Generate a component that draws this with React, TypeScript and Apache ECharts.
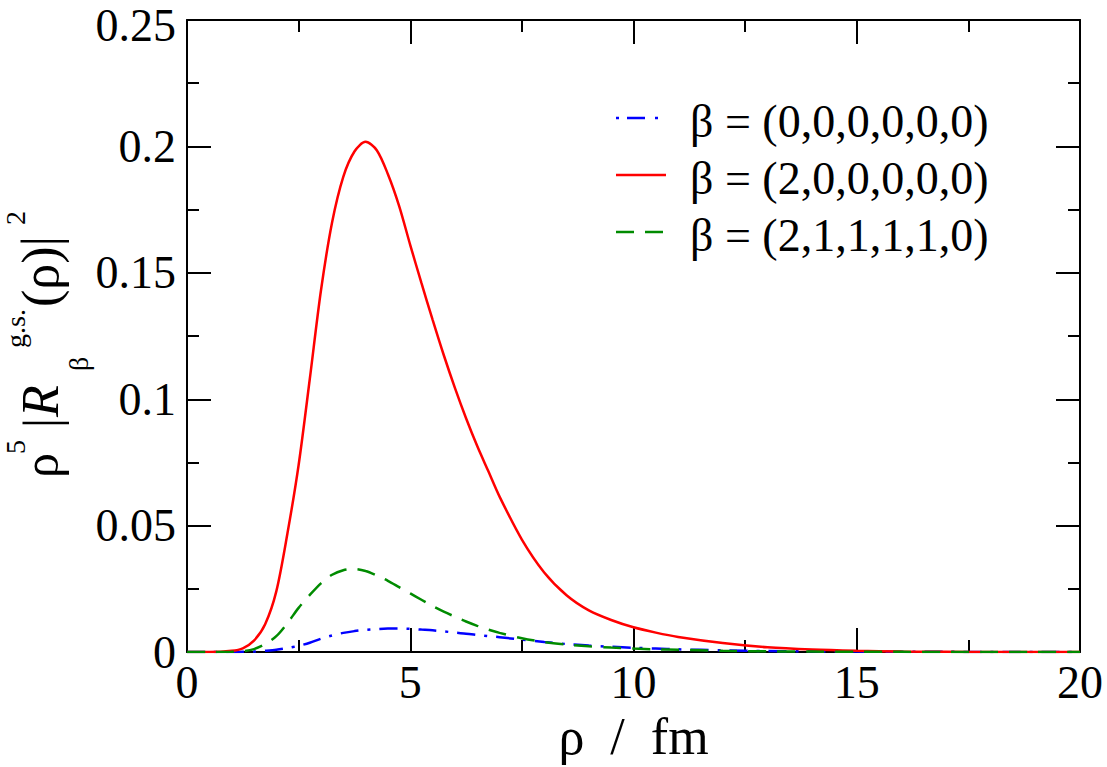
import React, { useEffect, useRef } from "react";
import * as echarts from "echarts";

// Hyperradius grid (fm) shared by the three densities
const rho = [
  0, 0.5, 1, 1.25, 1.5, 1.75, 2, 2.25, 2.5, 2.75, 3, 3.25, 3.5, 3.75, 4, 4.25,
  4.5, 4.75, 5, 5.25, 5.5, 5.75, 6, 6.25, 6.5, 6.75, 7, 7.5, 8, 8.5, 9, 9.5, 10,
  10.5, 11, 12, 13, 14, 15, 16, 17, 18, 19, 20,
];

// rho^5 |R|^2 for beta = (0,0,0,0,0,0)
const beta000000 = [
  0, 0, 0, 0.0001, 0.0002, 0.0005, 0.0009, 0.0016, 0.0025, 0.0037, 0.0053,
  0.0066, 0.0076, 0.0083, 0.0088, 0.0091, 0.0093, 0.0093, 0.0092, 0.0089,
  0.0086, 0.0082, 0.0077, 0.0073, 0.0068, 0.0063, 0.0059, 0.0049, 0.004,
  0.0032, 0.0026, 0.0021, 0.0017, 0.0014, 0.0011, 0.0007, 0.0004, 0.0003,
  0.0002, 0.0001, 0.0001, 0, 0, 0,
];

// rho^5 |R|^2 for beta = (2,0,0,0,0,0)
const beta200000 = [
  0, 0, 0.0005, 0.0015, 0.0045, 0.011, 0.024, 0.047, 0.074, 0.108, 0.143,
  0.17, 0.188, 0.198, 0.2018, 0.1985, 0.189, 0.1765, 0.161, 0.146, 0.1315,
  0.1175, 0.1045, 0.0925, 0.0815, 0.0715, 0.0615, 0.0445, 0.0315, 0.0225,
  0.0165, 0.0127, 0.0098, 0.0077, 0.006, 0.0036, 0.0019, 0.001, 0.0005,
  0.0002, 0.0001, 0, 0, 0,
];

// rho^5 |R|^2 for beta = (2,1,1,1,1,0)
const beta211110 = [
  0, 0, 0.0001, 0.0003, 0.0012, 0.0032, 0.0063, 0.0115, 0.0175, 0.0226,
  0.0272, 0.0306, 0.0324, 0.0329, 0.0321, 0.0303, 0.0282, 0.0257, 0.0232,
  0.0207, 0.0182, 0.016, 0.014, 0.0121, 0.0104, 0.0089, 0.0076, 0.0055, 0.004,
  0.003, 0.0023, 0.0018, 0.0014, 0.0011, 0.0009, 0.0005, 0.0003, 0.0002,
  0.0001, 0.0001, 0, 0, 0, 0,
];

const yMax = 0.25;

const legendLabels = [
  "β = (0,0,0,0,0,0)",
  "β = (2,0,0,0,0,0)",
  "β = (2,1,1,1,1,0)",
];
const colors = ["#0000ff", "#ff0000", "#008b00"];
const dashes: (number[] | null)[] = [[18, 9, 3, 9], null, [18, 11]];
const legendDashes: (number[] | null)[] = [[3, 8, 18, 10], null, [18, 11]];

const SERIF = "'Liberation Serif', 'Times New Roman', serif";
const BASE = 0.3375; // central-to-alphabetic baseline offset (em)

function axisCommon(showLabels: boolean, margin = 8) {
  return {
    type: "value" as const,
    axisLine: { show: true, onZero: false, lineStyle: { color: "#000", width: 2 } },
    axisTick: { show: true, inside: true, length: 24, lineStyle: { color: "#000", width: 2 } },
    minorTick: { show: true, splitNumber: 2, length: 12, lineStyle: { color: "#000", width: 2 } },
    splitLine: { show: false },
    axisLabel: {
      show: showLabels,
      fontSize: 46,
      fontFamily: SERIF,
      color: "#000",
      margin,
    },
  };
}

// one piece of the rotated y-axis title; baseline = screen x of the glyph baseline,
// start = screen y where the piece begins (text runs upward)
function titlePiece(text: string, size: number, baseline: number, start: number, italic = false) {
  return {
    type: "text",
    x: baseline - BASE * size,
    y: start,
    rotation: Math.PI / 2,
    style: {
      text,
      fontSize: size,
      lineHeight: Math.round(size * 0.7),
      fontFamily: SERIF,
      fontStyle: italic ? "italic" : "normal",
      fill: "#000",
      align: "left",
      verticalAlign: "middle",
    },
  };
}

export default function App() {
  const ref = useRef<HTMLDivElement>(null);

  useEffect(() => {
    if (!ref.current) return;
    const chart = echarts.init(ref.current, undefined, { renderer: "svg" });

    const seriesData = [beta000000, beta200000, beta211110];

    const legendGraphics: any[] = [];
    const rowY = [118, 175, 232];
    legendLabels.forEach((label, i) => {
      legendGraphics.push({
        type: "line",
        shape: { x1: 616, y1: rowY[i], x2: 666, y2: rowY[i] },
        style: { stroke: colors[i], lineWidth: 2.5, lineDash: legendDashes[i] },
      });
      legendGraphics.push({
        type: "text",
        x: 690,
        y: rowY[i] + 3,
        style: {
          text: label,
          fontSize: 46,
          fontFamily: SERIF,
          fill: "#000",
          align: "left",
          verticalAlign: "middle",
        },
      });
    });

    const yTitle = [
      titlePiece("ρ", 50, 58, 478),
      titlePiece("5", 28, 25, 454),
      titlePiece("|", 50, 58, 428),
      titlePiece("R", 52, 58, 417, true),
      titlePiece("β", 28, 88, 371),
      titlePiece("g.s.", 28, 25, 348),
      titlePiece("(ρ)|", 52, 58, 307),
      titlePiece("2", 28, 25, 225),
    ];

    const yAxisMain = axisCommon(true, 11);

    chart.setOption({
      animation: false,
      backgroundColor: "#fff",
      grid: { left: 187, right: 27, top: 20, bottom: 110, containLabel: false },
      xAxis: [
        {
          ...axisCommon(true, 7),
          position: "bottom",
          min: 0,
          max: 20,
          interval: 5,
          name: "ρ  /  fm",
          nameLocation: "middle",
          nameGap: 78,
          nameTextStyle: {
            fontSize: 52,
            fontFamily: SERIF,
            color: "#000",
            verticalAlign: "middle",
          },
        },
        { ...axisCommon(false), position: "top", min: 0, max: 20, interval: 5 },
      ],
      yAxis: [
        {
          ...yAxisMain,
          position: "left",
          min: 0,
          max: yMax,
          interval: 0.05,
          axisLabel: {
            ...yAxisMain.axisLabel,
            // keep the topmost label clear of the page edge
            formatter: (v: number) =>
              Math.abs(v - yMax) < 1e-9 ? `{top|${v}}` : `${v}`,
            rich: {
              top: {
                fontSize: 46,
                fontFamily: SERIF,
                color: "#000",
                padding: [11, 0, 0, 0],
              },
            },
          },
        },
        { ...axisCommon(false), position: "right", min: 0, max: yMax, interval: 0.05 },
      ],
      series: seriesData.map((vals, i) => ({
        type: "line",
        name: legendLabels[i],
        xAxisIndex: 0,
        yAxisIndex: 0,
        data: rho.map((r, j) => [r, vals[j]]),
        showSymbol: false,
        symbol: "none",
        smooth: 0.3,
        lineStyle: {
          color: colors[i],
          width: 2.5,
          type: dashes[i] ?? "solid",
        },
      })),
      graphic: [...legendGraphics, ...yTitle],
    });

    return () => chart.dispose();
  }, []);

  return (
    <div
      ref={ref}
      style={{ position: "fixed", left: 0, top: 0, width: 1107, height: 767, background: "#fff" }}
    />
  );
}
